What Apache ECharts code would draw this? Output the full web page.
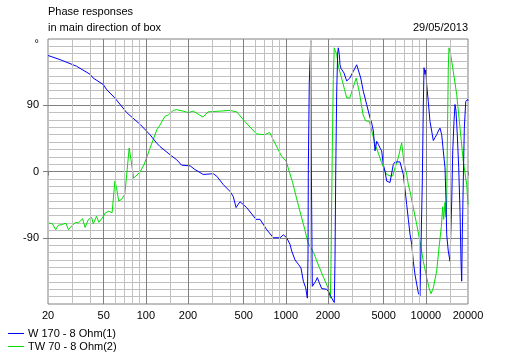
<!DOCTYPE html>
<html>
<head>
<meta charset="utf-8">
<script src="https://cdn.jsdelivr.net/npm/echarts@6/dist/echarts.min.js"></script>
<style>
html,body{margin:0;padding:0;background:#fff;}
#chart{width:514px;height:358px;}
</style>
</head>
<body>
<div id="chart"></div>
<script>
// ---- data (frequency in Hz, phase in degrees) ----
const titleText = 'Phase responses\nin main direction of box';
const dateText = '29/05/2013';
const seriesNames = ['W 170 - 8 Ohm(1)', 'TW 70 - 8 Ohm(2)'];

const xTickLabels = [20, 50, 100, 200, 500, 1000, 2000, 5000, 10000, 20000];
const xGridFreqs = [30, 40, 50, 60, 70, 80, 90, 100, 150, 200, 300, 400, 500, 600, 700, 800, 900,
  1000, 1500, 2000, 3000, 4000, 5000, 6000, 7000, 8000, 9000, 10000, 15000];
const xMajorFreqs = [50, 100, 200, 500, 1000, 2000, 5000, 10000];
const yTickLabels = {'180': '°', '90': '90', '0': '0', '-90': '-90'};

const blueFreq = [20, 24.4, 32, 40, 42, 49.7, 52.6, 60, 73, 91, 101, 107, 119, 126, 153, 166, 180, 207, 224, 257,
  303, 321, 357, 399, 421, 441, 470, 525, 612, 654, 730, 813, 908, 960, 1014, 1071, 1101, 1162, 1228, 1282,
  1333, 1386, 1424, 1440, 1447, 1470, 1505, 1520, 1545, 1570, 1634, 1678, 1733, 1802, 1958, 2010, 2126, 2218,
  2244, 2270, 2308, 2346, 2370, 2410, 2436, 2476, 2600, 2721, 2864, 3032, 3206, 3292, 3426, 3574, 3778, 3990,
  4102, 4218, 4332, 4456, 4574, 4704, 4836, 4966, 5108, 5250, 5546, 5700, 5852, 6020, 6534, 6902, 7096, 7296,
  7498, 7706, 7924, 8132, 8364, 8604, 8834, 9084, 9340, 9434, 9590, 9702, 9864, 9990, 10140, 10408, 10702,
  11006, 11306, 11616, 11952, 12276, 12619, 12828, 12980, 13324, 13702, 13932, 14090, 14460, 14872, 15122,
  15302, 15560, 15886, 16152, 16420, 16770, 17166, 17540, 17826, 18032, 18212, 18510, 18826, 19264, 19900, 20000];
const bluePhase = [157.6, 152, 143, 132, 127, 118, 111, 100, 80, 64, 55, 50, 39, 34, 21, 16, 8.6, 7.7, 2.7, -4,
  -3, -6.4, -17.7, -27, -34, -49, -41, -49, -65, -65, -79, -90, -90, -86, -90, -99, -108, -120, -126, -131,
  -149, -158, -172, -113, 3, 120, 178, 9, -156, -156, -149, -144, -151, -159, -160, -163, -172, -178,
  -122, -6, 109, 161, 168, 159, 145, 140, 134, 123, 127, 136, 145, 143, 127, 109, 91, 73,
  66, 55, 28, 41, 37, 32, 28, 9.5, 0.4, -13, -15, -17, 9.5, 13, 13, -4, -24, -45,
  -65, -85, -99, -122, -140, -153, -165, -169, -169, -13, 89, 141, 132, 138, 118, 95, 68,
  55, 42, 46, 50, 55, 59, 61, 50, 28, 5, -40, -86, -108, -122, -124,
  -40, 28, 68, 91, 82, 50, 5, -54, -122, -149, -86, -13, 59, 95, 98, 96];

const greenFreq = [20.3, 21.5, 22.7, 23.7, 25.3, 26.8, 28, 29.8, 31.6, 33, 35.3, 36.8, 38.9, 41, 42.1, 44.4, 46.2,
  48.9, 51.5, 54.4, 57.4, 60.1, 61.7, 64, 67, 70.7, 73.6, 76, 78.3, 81.8, 84.4, 90.6, 97.2, 106.7, 113, 120, 126,
  137, 145, 157, 166, 185, 201, 218, 243, 256, 278, 338, 398, 446, 509, 618, 707, 766, 930, 1005, 1117, 1240,
  1366, 1440, 1577, 1706, 1850, 1990, 2043, 2080, 2100, 2125, 2150, 2182, 2215, 2309, 2370, 2500, 2627, 2721,
  2864, 3180, 3340, 3560, 3710, 3950, 4110, 4340, 4836, 5108, 5250, 5546, 5796, 6020, 6360, 6718, 6980, 7296,
  7498, 7706, 8132, 8604, 9084, 9590, 10140, 10530, 10886, 11306, 11952, 12474, 12900, 13190, 13400, 13700,
  13900, 14090, 14250, 14460, 14630, 15030, 15700, 16600, 17540, 18510, 19580, 20000];
const greenPhase = [-70, -71, -79, -73, -72, -70, -79, -73, -69, -70, -64, -76, -65, -62.5, -71, -61, -69,
  -63, -56, -54, -56, -13, -22, -40, -38, -31, 3, 32, 16, -9, -10, -1, 9.5, 31, 43.5, 57, 63,
  75, 77, 83, 84, 82, 80, 82, 76.5, 74, 81, 82, 83, 81, 68, 51, 50, 53, 21, 14, -15, -49,
  -79, -97, -110, -127, -143, -157, -165, -172, -130, -40, 40, 125, 168, 159, 143, 127, 111, 100,
  100, 127, 109, 77, 69, 68, 55, 37, 12, 0, -4, -6, -6, 5, 19, 39, 12, -4,
  -18, -27, -49, -72, -95, -122, -144, -158, -166, -158, -135, -100, -75, -48, -65, -42,
  -62, -40, 40, 140, 168, 159, 136, 105, 59, 14, -18, -45];

// ---- build ----
const MINOR = '#c0c0c0', MAJOR = '#808080';
const FONT = "'Liberation Sans', Arial, sans-serif";
const zip = (a, b) => a.map((v, i) => [v, b[i]]);

const gridLines = xGridFreqs.map(f => ({
  xAxis: f,
  lineStyle: {color: xMajorFreqs.indexOf(f) >= 0 ? MAJOR : MINOR, width: 1, type: 'solid'}
}));

const chart = echarts.init(document.getElementById('chart'), null, {renderer: 'canvas'});
chart.setOption({
  animation: false,
  backgroundColor: '#ffffff',
  textStyle: {fontFamily: FONT},
  title: [
    {text: titleText, left: 48, top: 4, padding: 0,
     textStyle: {fontSize: 11, fontWeight: 'normal', color: '#000', lineHeight: 16, fontFamily: FONT}},
    {text: dateText, right: 46, top: 20, padding: 0,
     textStyle: {fontSize: 11, fontWeight: 'normal', color: '#000', lineHeight: 16, fontFamily: FONT}}
  ],
  legend: {
    orient: 'vertical', left: 8, top: 327, padding: 0, itemGap: 0,
    itemWidth: 16, itemHeight: 1, icon: 'rect',
    data: seriesNames,
    textStyle: {fontSize: 11, color: '#000', lineHeight: 13, fontFamily: FONT, padding: [0, 0, 0, -1]}
  },
  grid: {left: 48, right: 46, top: 39, bottom: 54, show: true, borderColor: MAJOR, borderWidth: 1, backgroundColor: '#fff'},
  xAxis: {
    type: 'log', logBase: 10, min: 20, max: 20000,
    axisLine: {show: false},
    splitLine: {show: false},
    minorSplitLine: {show: false},
    axisTick: {show: true, length: 4, inside: false, customValues: xTickLabels, lineStyle: {color: MAJOR}},
    axisLabel: {show: true, customValues: xTickLabels, margin: 6, fontSize: 11, color: '#000', fontFamily: FONT,
      formatter: v => String(Math.round(v))}
  },
  yAxis: {
    type: 'value', min: -180, max: 180, interval: 90,
    axisLine: {show: false},
    axisTick: {show: true, length: 5, customValues: [-90, 0, 90], lineStyle: {color: MAJOR}},
    axisLabel: {margin: 9, fontSize: 11, color: '#000', fontFamily: FONT,
      formatter: v => {
        const t = yTickLabels[String(v)];
        if (t === undefined) return '';
        return v === 180 ? '{d|' + t + '}' : t;
      },
      rich: {d: {fontSize: 11, padding: [9, 0, 0, 0], color: '#000'}}
    },
    splitLine: {show: true, lineStyle: {color: MAJOR, width: 1}},
    minorTick: {show: false, splitNumber: 9},
    minorSplitLine: {show: true, lineStyle: {color: MINOR, width: 1}}
  },
  series: [
    {
      type: 'line', z: 1, silent: true, showSymbol: false, symbol: 'none',
      data: [[1000, 0]], lineStyle: {opacity: 0},
      markLine: {silent: true, symbol: ['none', 'none'], label: {show: false}, animation: false, data: gridLines}
    },
    {
      name: seriesNames[0], type: 'line', z: 3, showSymbol: false, symbol: 'none',
      data: zip(blueFreq, bluePhase), lineStyle: {color: '#0000ff', width: 1}, itemStyle: {color: '#0000ff'}
    },
    {
      name: seriesNames[1], type: 'line', z: 2, showSymbol: false, symbol: 'none',
      data: zip(greenFreq, greenPhase), lineStyle: {color: '#00e000', width: 1}, itemStyle: {color: '#00e000'}
    }
  ]
});
</script>
</body>
</html>
